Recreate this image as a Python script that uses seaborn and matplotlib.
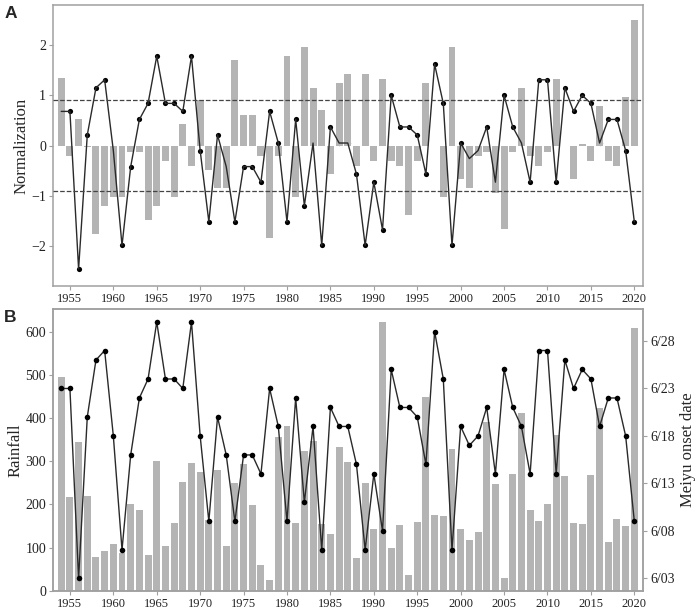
import matplotlib
matplotlib.use("Agg")
import numpy as np
import matplotlib.pyplot as plt
import seaborn as sns

# years on the x axis
years = np.arange(1954, 2021)

# panel A: normalized rainfall (bars) and normalized onset date (line)
norm_rain = [1.34, -0.21, 0.52, -0.02, -1.76, -1.21, -1.03, -1.03, -0.12, -0.12,
             -1.48, -1.21, -0.30, -1.03, 0.42, -0.40, 0.91, -0.48, -0.85, -0.85,
             1.70, 0.60, 0.60, -0.21, -1.84, -0.21, 1.79, -1.03, 1.97, 1.15,
             0.70, -0.57, 1.24, 1.42, -0.40, 1.42, -0.30, 1.33, -0.30, -0.40,
             -1.39, -0.30, 1.24, -0.01, -1.03, 1.97, -0.66, -0.85, -0.21, -0.12,
             -0.94, -1.66, -0.12, 1.15, -0.21, -0.40, -0.12, 1.33, -0.01, -0.66,
             0.04, -0.30, 0.78, -0.30, -0.40, 0.96, 2.51]
norm_onset = [0.68, 0.68, -2.46, 0.21, 1.15, 1.31, -0.10, -1.99, -0.42, 0.52,
              0.84, 1.78, 0.84, 0.84, 0.68, 1.78, -0.10, -1.52, 0.21, -0.42,
              -1.52, -0.42, -0.42, -0.73, 0.68, 0.05, -1.52, 0.52, -1.20, 0.05,
              -1.99, 0.37, 0.05, 0.05, -0.57, -1.99, -0.73, -1.68, 1.00, 0.37,
              0.37, 0.21, -0.57, 1.62, 0.84, -1.99, 0.05, -0.26, -0.10, 0.37,
              -0.73, 1.00, 0.37, 0.05, -0.73, 1.31, 1.31, -0.73, 1.15, 0.68,
              1.00, 0.84, 0.05, 0.52, 0.52, -0.10, -1.52]

# panel B: rainfall (bars) and Meiyu onset date as day of June (line)
rainfall = [494, 217, 344, 220, 79, 93, 108, 88, 202, 187,
            83, 301, 105, 158, 252, 296, 274, 165, 280, 103,
            250, 293, 199, 59, 25, 356, 382, 158, 324, 347,
            155, 131, 333, 299, 76, 249, 143, 622, 99, 153,
            36, 160, 448, 176, 174, 329, 144, 118, 136, 390,
            247, 31, 270, 411, 187, 162, 202, 361, 267, 157,
            156, 268, 423, 114, 166, 150, 609]
onset_day = [23, 23, 3, 20, 26, 27, 18, 6, 16, 22,
             24, 30, 24, 24, 23, 30, 18, 9, 20, 16,
             9, 16, 16, 14, 23, 19, 9, 22, 11, 19,
             6, 21, 19, 19, 15, 6, 14, 8, 25, 21,
             21, 20, 15, 29, 24, 6, 19, 17, 18, 21,
             14, 25, 21, 19, 14, 27, 27, 14, 26, 23,
             25, 24, 19, 22, 22, 18, 9]

year_ticks = list(range(1955, 2021, 5))
date_ticks = [3, 8, 13, 18, 23, 28]
date_labels = ['6/03', '6/08', '6/13', '6/18', '6/23', '6/28']

sns.set_style("ticks")
plt.rcParams['font.family'] = ['Liberation Serif', 'DejaVu Serif']

bar_col = '#b4b4b4'
line_col = '#2a2a2a'
frame_col = '#a0a0a0'

fig = plt.figure(figsize=(6.99, 6.13), dpi=100)
axA = fig.add_axes([0.0758, 0.5334, 0.8441, 0.4584])
axB = fig.add_axes([0.0758, 0.0359, 0.8441, 0.4600])


def style_axis(ax):
    for s in ax.spines.values():
        s.set_color(frame_col)
        s.set_linewidth(1.1)
    ax.tick_params(axis='both', color=frame_col, length=3, width=0.8,
                   pad=2, labelcolor='#222222')
    ax.tick_params(axis='x', labelsize=9)
    ax.tick_params(axis='y', labelsize=10)


# ---- A ----
sns.scatterplot(x=years, y=norm_onset, color='black', s=14, linewidth=0,
                ax=axA, zorder=1)
sns.barplot(x=years, y=norm_rain, native_scale=True, color=bar_col,
            saturation=1, width=0.8, errorbar=None, linewidth=0,
            ax=axA, zorder=2)
sns.lineplot(x=years, y=norm_onset, color=line_col, lw=1.0, estimator=None,
             ax=axA, zorder=3)
for h in (0.9, -0.9):
    axA.axhline(h, ls='--', color='#444444', lw=0.9, zorder=4)

axA.set_xlim(1953.05, 2021.0)
axA.set_ylim(-2.8, 2.8)
axA.set_xticks(year_ticks)
axA.set_xticklabels([str(y) for y in year_ticks])
axA.set_yticks([-2, -1, 0, 1, 2])
axA.set_ylabel('Normalization', fontsize=12, labelpad=1)
axA.set_xlabel('')
style_axis(axA)

# ---- B ----
sns.barplot(x=years, y=rainfall, native_scale=True, color=bar_col,
            saturation=1, width=0.8, errorbar=None, linewidth=0, ax=axB)
axB.set_xlim(1953.05, 2021.0)
axB.set_ylim(0, 652)
axB.set_xticks(year_ticks)
axB.set_xticklabels([str(y) for y in year_ticks])
axB.set_yticks(range(0, 601, 100))
axB.set_ylabel('Rainfall', fontsize=12, labelpad=1)
axB.set_xlabel('')
style_axis(axB)

ax2 = axB.twinx()
sns.lineplot(x=years, y=onset_day, color=line_col, lw=1.0, estimator=None,
             marker='o', markersize=4, markeredgewidth=0,
             markerfacecolor='black', ax=ax2)
ax2.set_xlim(1953.05, 2021.0)
ax2.set_ylim(1.67, 31.37)
ax2.set_yticks(date_ticks)
ax2.set_yticklabels(date_labels)
ax2.set_ylabel('Meiyu onset date', fontsize=12)
style_axis(ax2)

fig.text(0.006, 0.990, 'A', fontsize=12.5, fontweight='bold', va='top',
         family=['Liberation Sans', 'DejaVu Sans'])
fig.text(0.006, 0.495, 'B', fontsize=12.5, fontweight='bold', va='top',
         family=['Liberation Sans', 'DejaVu Sans'])

fig.savefig('out.png', dpi=100)
